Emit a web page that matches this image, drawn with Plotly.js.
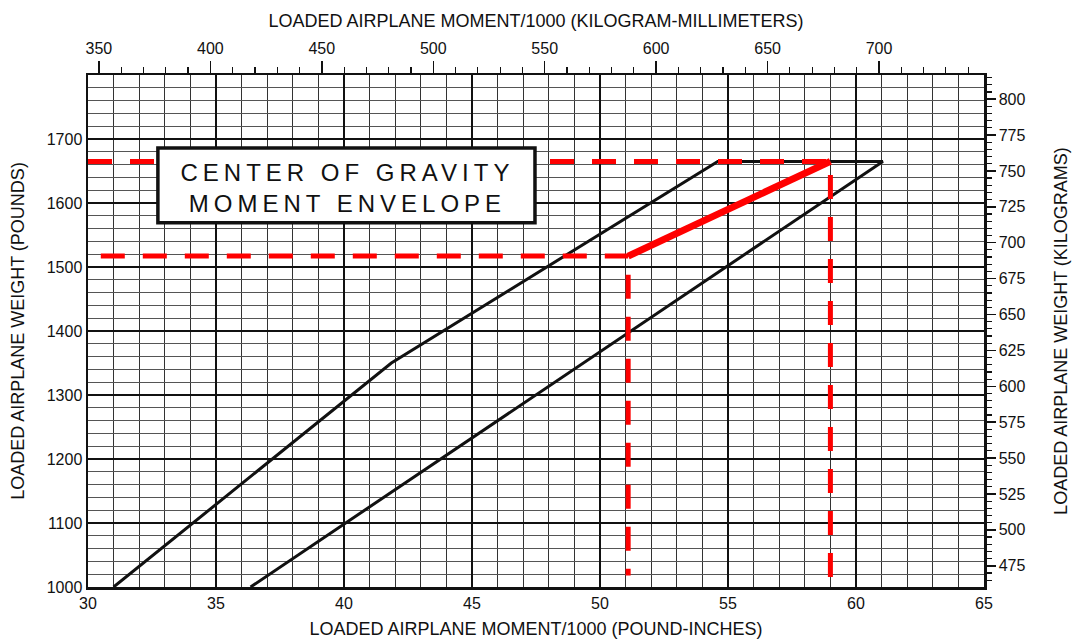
<!DOCTYPE html>
<html>
<head>
<meta charset="utf-8">
<script src="https://cdn.plot.ly/plotly-3.0.1.min.js"></script>
<style>
  html, body { margin: 0; padding: 0; background: #fff; }
  #chart { width: 1074px; height: 641px; }
  .annotation text { letter-spacing: 5px; }
</style>
</head>
<body>
<div id="chart"></div>
<script>
// ---- Data ----
// Envelope outline: moment/1000 (lb-in) vs weight (lb)
const envelopeMoment = [31.0, 41.85, 54.6, 61.05, 36.35];
const envelopeWeight = [1000, 1350, 1665, 1665, 1000];

// Red dashed guide at maximum weight
const maxGuideMoment = [30.0, 59.0, 59.0];
const maxGuideWeight = [1665, 1665, 1000];

// Red dashed guide at lower weight
const lowGuideMoment = [30.5, 51.1, 51.1];
const lowGuideWeight = [1517, 1517, 1018];

// Red solid path between the two loading points
const pathMoment = [51.1, 59.0];
const pathWeight = [1517, 1665];

// Tick labels
const bottomTicks = [30, 35, 40, 45, 50, 55, 60, 65];
const leftTicks = [1000, 1100, 1200, 1300, 1400, 1500, 1600, 1700];
const topTicks = [350, 400, 450, 500, 550, 600, 650, 700];
const rightTicks = [475, 500, 525, 550, 575, 600, 625, 650, 675, 700, 725, 750, 775, 800];

const boxLines = ["CENTER OF GRAVITY", "MOMENT ENVELOPE"];

const FONT = "Liberation Sans, Arial, sans-serif";
const INK = "#111";

const traces = [
  {
    x: envelopeMoment, y: envelopeWeight, type: "scatter", mode: "lines",
    line: { color: INK, width: 3 }, hoverinfo: "skip", showlegend: false
  },
  {
    x: maxGuideMoment, y: maxGuideWeight, type: "scatter", mode: "lines",
    line: { color: "#ff0000", width: 5, dash: "24px,18px" }, hoverinfo: "skip", showlegend: false
  },
  {
    x: lowGuideMoment, y: lowGuideWeight, type: "scatter", mode: "lines",
    line: { color: "#ff0000", width: 5, dash: "24px,18px" }, hoverinfo: "skip", showlegend: false
  },
  {
    x: pathMoment, y: pathWeight, type: "scatter", mode: "lines",
    line: { color: "#ff0000", width: 7 }, hoverinfo: "skip", showlegend: false
  },
  {
    x: [], y: [], xaxis: "x2", yaxis: "y2", type: "scatter", mode: "lines",
    hoverinfo: "skip", showlegend: false
  }
];

const layout = {
  width: 1074, height: 641,
  margin: { l: 88, r: 90, t: 75, b: 54 },
  paper_bgcolor: "#fff", plot_bgcolor: "#fff",
  font: { family: FONT, color: INK, size: 16 },
  showlegend: false,
  xaxis: {
    range: [30, 65], tickmode: "array", tickvals: bottomTicks, ticktext: bottomTicks.map(String),
    showgrid: true, gridcolor: INK, gridwidth: 2,
    minor: { dtick: 1, tick0: 30, showgrid: true, gridcolor: "#333", gridwidth: 1 },
    zeroline: false, showline: true, linecolor: INK, linewidth: 2.5, mirror: false,
    ticks: "", tickfont: { family: FONT, size: 16, color: INK },
    title: { text: "LOADED AIRPLANE MOMENT/1000 (POUND-INCHES)", font: { family: FONT, size: 18, color: INK }, standoff: 12 },
    automargin: false, fixedrange: true
  },
  yaxis: {
    range: [1000, 1800], tickmode: "array", tickvals: leftTicks, ticktext: leftTicks.map(String),
    showgrid: true, gridcolor: INK, gridwidth: 2,
    minor: { dtick: 20, tick0: 1000, showgrid: true, gridcolor: "#555", gridwidth: 1 },
    zeroline: false, showline: true, linecolor: INK, linewidth: 2.5,
    ticks: "", tickfont: { family: FONT, size: 16, color: INK },
    title: { text: "LOADED AIRPLANE WEIGHT (POUNDS)", font: { family: FONT, size: 18, color: INK }, standoff: 18 },
    automargin: false, fixedrange: true
  },
  xaxis2: {
    overlaying: "x", side: "top", anchor: "y2",
    range: [345.1, 747.1], tickmode: "array", tickvals: topTicks, ticktext: topTicks.map(String),
    ticks: "outside", ticklen: 12, tickwidth: 1.5, tickcolor: INK,
    minor: { dtick: 10, tick0: 350, ticks: "outside", ticklen: 6, tickwidth: 1.2, tickcolor: INK, showgrid: false },
    showgrid: false, zeroline: false, showline: true, linecolor: INK, linewidth: 2.5,
    tickfont: { family: FONT, size: 16, color: INK },
    title: { text: "LOADED AIRPLANE MOMENT/1000 (KILOGRAM-MILLIMETERS)", font: { family: FONT, size: 18, color: INK }, standoff: 8 },
    automargin: false, fixedrange: true
  },
  yaxis2: {
    overlaying: "y", side: "right", anchor: "x2",
    range: [460.2, 816.8], tickmode: "array", tickvals: rightTicks, ticktext: rightTicks.map(String),
    ticks: "outside", ticklen: 9, tickwidth: 1.5, tickcolor: INK,
    minor: { dtick: 5, tick0: 475, ticks: "outside", ticklen: 5, tickwidth: 1.2, tickcolor: INK, showgrid: false },
    showgrid: false, zeroline: false, showline: true, linecolor: INK, linewidth: 2.5,
    tickfont: { family: FONT, size: 16, color: INK },
    title: { text: "LOADED AIRPLANE WEIGHT (KILOGRAMS)", font: { family: FONT, size: 18, color: INK }, standoff: 30 },
    automargin: false, fixedrange: true
  },
  shapes: [
    {
      type: "rect", xref: "x", yref: "y", layer: "above",
      x0: 32.73, x1: 47.46, y0: 1569, y1: 1686,
      line: { color: INK, width: 3.5 }, fillcolor: "#fff"
    }
  ],
  annotations: [
    {
      xref: "x", yref: "y", x: 40.15, y: 1624,
      text: boxLines.join("<br>"), showarrow: false,
      font: { family: FONT, size: 24, color: INK },
      align: "center", xanchor: "center", yanchor: "middle"
    }
  ]
};

Plotly.newPlot("chart", traces, layout, { staticPlot: true, displayModeBar: false });
</script>
</body>
</html>
